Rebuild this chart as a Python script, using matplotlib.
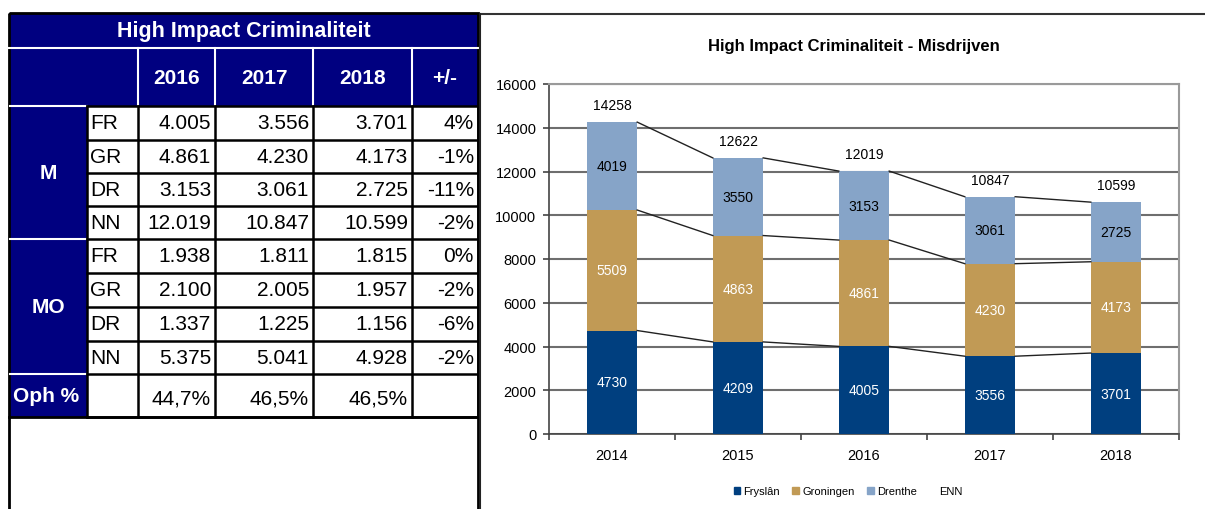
import numpy as np
import matplotlib.pyplot as plt
from matplotlib.patches import Rectangle, Patch

# grafiek data
years = ['2014', '2015', '2016', '2017', '2018']
fryslan = [4730, 4209, 4005, 3556, 3701]
groningen = [5509, 4863, 4861, 4230, 4173]
drenthe = [4019, 3550, 3153, 3061, 2725]

# tabel data
table_title = 'High Impact Criminaliteit'
table_years = ['2016', '2017', '2018']
regions = ['FR', 'GR', 'DR', 'NN']
m_values = [['4.005', '3.556', '3.701'],
            ['4.861', '4.230', '4.173'],
            ['3.153', '3.061', '2.725'],
            ['12.019', '10.847', '10.599']]
m_change = ['4%', '-1%', '-11%', '-2%']
mo_values = [['1.938', '1.811', '1.815'],
             ['2.100', '2.005', '1.957'],
             ['1.337', '1.225', '1.156'],
             ['5.375', '5.041', '4.928']]
mo_change = ['0%', '-2%', '-6%', '-2%']
oph = ['44,7%', '46,5%', '46,5%']

navy = '#000080'
c_fr = '#003F7F'
c_gr = '#C19A55'
c_dr = '#86A4C8'
narrow = ['Liberation Sans Narrow', 'Liberation Sans', 'DejaVu Sans']
arial = ['Liberation Sans', 'DejaVu Sans']

fig = plt.figure(figsize=(12.05, 5.10), dpi=100)

# --- tabel links, in pixel coordinaten ---
tab = fig.add_axes([0, 0, 1, 1])
tab.set_xlim(0, 1205)
tab.set_ylim(510, 0)
tab.axis('off')

xs = [9, 87, 138, 215, 313, 412, 478]
ys = [107, 140.5, 174, 207, 240, 274, 308, 341.5, 375, 418]

# blauwe vlakken
tab.add_patch(Rectangle((xs[0], 14), xs[-1] - xs[0], 94, color=navy, lw=0))
tab.add_patch(Rectangle((xs[0], ys[0]), xs[1] - xs[0], ys[-1] - ys[0], color=navy, lw=0))
tab.plot([xs[0], xs[-1]], [48.5, 48.5], color='white', lw=1.5)
for x in xs[2:6]:
    tab.plot([x, x], [49, ys[0]], color='white', lw=1.5)
for y in [ys[0], ys[4], ys[8]]:
    tab.plot([xs[0] + 1, xs[1]], [y, y], color='white', lw=1.5)

# rasterlijnen witte cellen
for y in ys:
    tab.plot([xs[1], xs[-1]], [y, y], color='black', lw=1.8)
for x in xs[1:]:
    tab.plot([x, x], [ys[0], ys[-1]], color='black', lw=1.8)

# buitenrand en leeg vak onderaan
tab.add_patch(Rectangle((xs[0], 14), xs[-1] - xs[0], 510, fill=False, ec='black', lw=2))
tab.plot([xs[0], xs[-1]], [ys[-1], ys[-1]], color='black', lw=2)

# rand van de grafiek
tab.plot([479.5, 1205], [15, 15], color='#333333', lw=1.5)
tab.plot([479.5, 479.5], [15, 510], color='#222222', lw=1.5)

# teksten tabel
tab.text((xs[0] + xs[-1]) / 2, 31, table_title, color='white', fontsize=15.5,
         fontweight='bold', ha='center', va='center', family=arial)
for j, yr in enumerate(table_years):
    tab.text((xs[j + 2] + xs[j + 3]) / 2, 78, yr, color='white', fontsize=15,
             fontweight='bold', ha='center', va='center', family=arial)
tab.text((xs[5] + xs[6]) / 2, 78, '+/-', color='white', fontsize=15,
         fontweight='bold', ha='center', va='center', family=arial)
tab.text((xs[0] + xs[1]) / 2, (ys[0] + ys[4]) / 2, 'M', color='white', fontsize=15,
         fontweight='bold', ha='center', va='center', family=arial)
tab.text((xs[0] + xs[1]) / 2, (ys[4] + ys[8]) / 2, 'MO', color='white', fontsize=15,
         fontweight='bold', ha='center', va='center', family=arial)
tab.text(xs[0] + 4, (ys[8] + ys[9]) / 2, 'Oph %', color='white', fontsize=15,
         fontweight='bold', ha='left', va='center', family=arial)

groups = [(m_values, m_change), (mo_values, mo_change)]
for g, (vals, chg) in enumerate(groups):
    for r in range(4):
        yc = (ys[g * 4 + r] + ys[g * 4 + r + 1]) / 2
        tab.text(xs[1] + 3, yc, regions[r], fontsize=15, ha='left', va='center', family=arial)
        for c in range(3):
            tab.text(xs[c + 3] - 4, yc, vals[r][c], fontsize=15, ha='right',
                     va='center', family=arial)
        tab.text(xs[6] - 4, yc, chg[r], fontsize=15, ha='right', va='center', family=arial)
for c in range(3):
    tab.text(xs[c + 3] - 4, (ys[8] + ys[9]) / 2 + 3, oph[c], fontsize=15, ha='right',
             va='center', family=arial)

# --- gestapelde staafgrafiek rechts ---
ax = fig.add_axes([549 / 1205, 75 / 510, 630 / 1205, 350 / 510])
x = np.arange(len(years))
w = 0.4
fr = np.array(fryslan)
gr = np.array(groningen)
dr = np.array(drenthe)
ax.bar(x, fr, w, color=c_fr, zorder=3)
ax.bar(x, gr, w, bottom=fr, color=c_gr, zorder=3)
ax.bar(x, dr, w, bottom=fr + gr, color=c_dr, zorder=3)

# verbindingslijnen tussen de staven
for lvl in [fr, fr + gr, fr + gr + dr]:
    for i in range(len(x) - 1):
        ax.plot([x[i] + w / 2, x[i + 1] - w / 2], [lvl[i], lvl[i + 1]],
                color='#222222', lw=1, zorder=4)

for i in range(len(x)):
    ax.text(x[i], fr[i] / 2, str(fr[i]), color='white', ha='center', va='center',
            fontsize=10, family=narrow, zorder=5)
    ax.text(x[i], fr[i] + gr[i] / 2, str(gr[i]), color='white', ha='center', va='center',
            fontsize=10, family=narrow, zorder=5)
    ax.text(x[i], fr[i] + gr[i] + dr[i] / 2, str(dr[i]), color='black', ha='center',
            va='center', fontsize=10, family=narrow, zorder=5)
    total = fr[i] + gr[i] + dr[i]
    ax.annotate(str(total), (x[i], total), xytext=(0, 12), textcoords='offset points',
                ha='center', va='center', fontsize=10, family=narrow)

ax.set_xlim(-0.5, len(x) - 0.5)
ax.set_ylim(0, 16000)
ax.set_yticks(np.arange(0, 16001, 2000))
ax.set_xticks(x)
ax.set_xticklabels(years)
ax.set_xticks(np.arange(-0.5, len(x), 1), minor=True)
ax.tick_params(axis='x', which='major', length=0, pad=10)
ax.tick_params(axis='x', which='minor', length=4, color='#444444', width=1.2)
ax.tick_params(axis='y', length=4, color='#444444', width=1.2, pad=5)
for lab in ax.get_xticklabels() + ax.get_yticklabels():
    lab.set_family(narrow)
    lab.set_fontsize(10.5)
ax.grid(axis='y', color='#6E6E6E', lw=1.5, zorder=1)
ax.set_axisbelow(True)
for s in ['left', 'bottom']:
    ax.spines[s].set_color('#444444')
    ax.spines[s].set_linewidth(1.2)
for s in ['top', 'right']:
    ax.spines[s].set_color('#9A9A9A')
    ax.spines[s].set_linewidth(1.5)

fig.text(854 / 1205, 1 - 47 / 510, 'High Impact Criminaliteit - Misdrijven',
         ha='center', va='center', fontsize=12, fontweight='bold', family=narrow)

handles = [Patch(color=c_fr, label='Fryslân'), Patch(color=c_gr, label='Groningen'),
           Patch(color=c_dr, label='Drenthe'), Patch(color='none', label='ENN')]
fig.legend(handles=handles, loc='center', bbox_to_anchor=(848 / 1205, 1 - 492 / 510),
           ncol=4, frameon=False, prop={'family': narrow, 'size': 8},
           handlelength=0.6, handleheight=0.6, handletextpad=0.3, columnspacing=1.1)

fig.savefig('out.png', dpi=100)
